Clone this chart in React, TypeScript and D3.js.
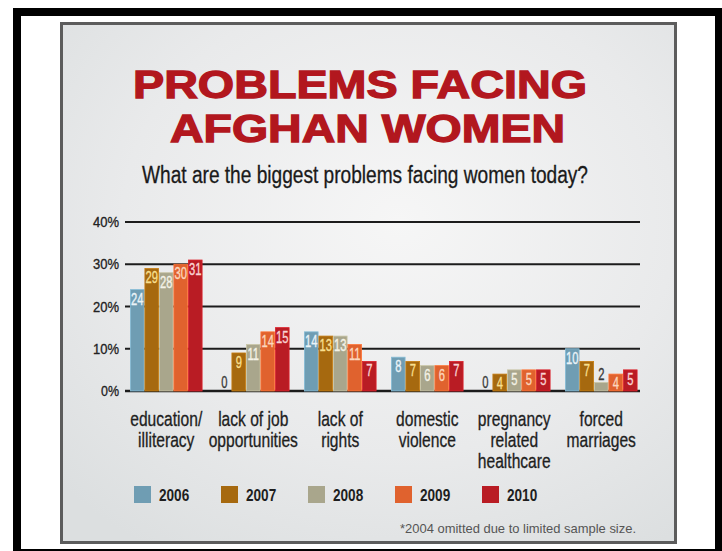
import React from "react";
import * as d3 from "d3";

const categories = [
  ["education/", "illiteracy"],
  ["lack of job", "opportunities"],
  ["lack of", "rights"],
  ["domestic", "violence"],
  ["pregnancy", "related", "healthcare"],
  ["forced", "marriages"],
];
const years = ["2006", "2007", "2008", "2009", "2010"];
const colors = ["#6f9db3", "#a6690f", "#a9a68c", "#e0622e", "#b91c24"];
const labelTints = ["#eaf3f8", "#f8df8e", "#f4f2e6", "#fcd6bd", "#f9d4d4"];
const v2006 = [24, 0, 14, 8, 0, 10];
const v2007 = [29, 9, 13, 7, 4, 7];
const v2008 = [28, 11, 13, 6, 5, 2];
const v2009 = [30, 14, 11, 6, 5, 4];
const v2010 = [31, 15, 7, 7, 5, 5];
const series = [v2006, v2007, v2008, v2009, v2010];
const yTicks = [0, 10, 20, 30, 40];

const SANS = "'Liberation Sans', Arial, 'DejaVu Sans', sans-serif";

function NText(props: {
  x: number; y: number; anchor?: string; size: number; weight?: any; fill: string; sx?: number; sw?: number; children: any;
}) {
  const { x, y, anchor = "start", size, weight = "normal", fill, sx = 0.8, sw = 0, children } = props;
  return (
    <g transform={`translate(${x},${y}) scale(${sx},1)`}>
      <text x={0} y={0} textAnchor={anchor} fontFamily={SANS} fontSize={size} fontWeight={weight} fill={fill} stroke={sw ? fill : "none"} strokeWidth={sw}>
        {children}
      </text>
    </g>
  );
}

export default function App() {
  const W = 722, H = 551;
  const catKeys = categories.map((c) => c.join(" "));
  const x = d3.scaleBand<string>().domain(catKeys).range([130, 637.5]).paddingInner(0.1667).paddingOuter(0);
  const xi = d3.scaleBand<string>().domain(years).range([0, x.bandwidth()]).padding(0);
  const y = d3.scaleLinear().domain([0, 40]).range([391, 222]);

  return (
    <svg width={W} height={H} style={{ position: "absolute", left: 0, top: 0, background: "#fff" }}>
      <defs>
        <radialGradient id="bg" cx="0.55" cy="0.38" r="0.75">
          <stop offset="0" stopColor="#f6f6f6" />
          <stop offset="0.6" stopColor="#e9eaeb" />
          <stop offset="1" stopColor="#dcdfe0" />
        </radialGradient>
      </defs>
      {/* black outer frame */}
      <rect x={17} y={12} width={702} height={H} fill="none" stroke="#000" strokeWidth={8} />
      <rect x={13} y={549} width={W} height={2} fill="#000" />
      {/* panel */}
      <rect x={61.5} y={23.5} width={614} height={519} fill="url(#bg)" stroke="#5c5c5c" strokeWidth={3} />

      {/* title */}
      <text x={133} y={98} textLength={454} lengthAdjust="spacingAndGlyphs" fontFamily={SANS} fontWeight={900} fontSize={39} fill="#b2171e" stroke="#b2171e" strokeWidth={1.3}>PROBLEMS FACING</text>
      <text x={170} y={142} textLength={395} lengthAdjust="spacingAndGlyphs" fontFamily={SANS} fontWeight={900} fontSize={39} fill="#b2171e" stroke="#b2171e" strokeWidth={1.3}>AFGHAN WOMEN</text>
      <text x={142} y={183} textLength={446} lengthAdjust="spacingAndGlyphs" fontFamily={SANS} fontSize={23} fill="#1a1a1a" stroke="#1a1a1a" strokeWidth={0.3}>What are the biggest problems facing women today?</text>

      {/* gridlines */}
      {yTicks.map((t) => (
        <g key={t}>
          <line x1={125} x2={640} y1={y(t)} y2={y(t)} stroke="#1c1c1c" strokeWidth={t === 0 ? 2.5 : 2.2} />
          <text x={119} y={y(t) + 5} textAnchor="end" textLength={t === 0 ? 18 : 26} lengthAdjust="spacingAndGlyphs" fontFamily={SANS} fontSize={14} fill="#222" stroke="#222" strokeWidth={0.3}>{t + "%"}</text>
        </g>
      ))}

      {/* bars */}
      {catKeys.map((ck, ci) => (
        <g key={ck} transform={`translate(${x(ck)},0)`}>
          {years.map((yr, si) => {
            const v = series[si][ci];
            const bx = xi(yr)!;
            const bw = xi.bandwidth();
            const top = y(v);
            const dark = v < 3;
            return (
              <g key={yr}>
                {v > 0 && (
                  <rect x={bx + 0.4} y={top} width={bw - 0.8} height={y(0) - top} fill={colors[si]} stroke={d3.color(colors[si])!.brighter(0.5).toString()} strokeWidth={0.8} />
                )}
                <NText x={bx + bw / 2} y={dark ? top - 3 : top + 15} anchor="middle" size={16} sx={0.7} sw={0.35} fill={dark ? "#3a3a3a" : labelTints[si]}>
                  {v}
                </NText>
              </g>
            );
          })}
        </g>
      ))}

      {/* category labels */}
      {catKeys.map((ck, ci) => (
        <g key={ck}>
          {categories[ci].map((line, li) => (
            <NText key={li} x={x(ck)! + x.bandwidth() / 2} y={426 + li * 21} anchor="middle" size={19.5} sx={0.8} sw={0.3} fill="#1e1e1e">
              {line}
            </NText>
          ))}
        </g>
      ))}

      {/* legend */}
      {years.map((yr, si) => {
        const lx = x(catKeys[si])! + 4;
        return (
          <g key={yr}>
            <rect x={lx} y={486} width={17} height={17} fill={colors[si]} />
            <NText x={lx + 25} y={501} size={17} weight="bold" sx={0.8} fill="#1e1e1e">{yr}</NText>
          </g>
        );
      })}

      <text x={400} y={533} textLength={236} lengthAdjust="spacingAndGlyphs" fontFamily={SANS} fontSize={13} fill="#555">*2004 omitted due to limited sample size.</text>
    </svg>
  );
}
